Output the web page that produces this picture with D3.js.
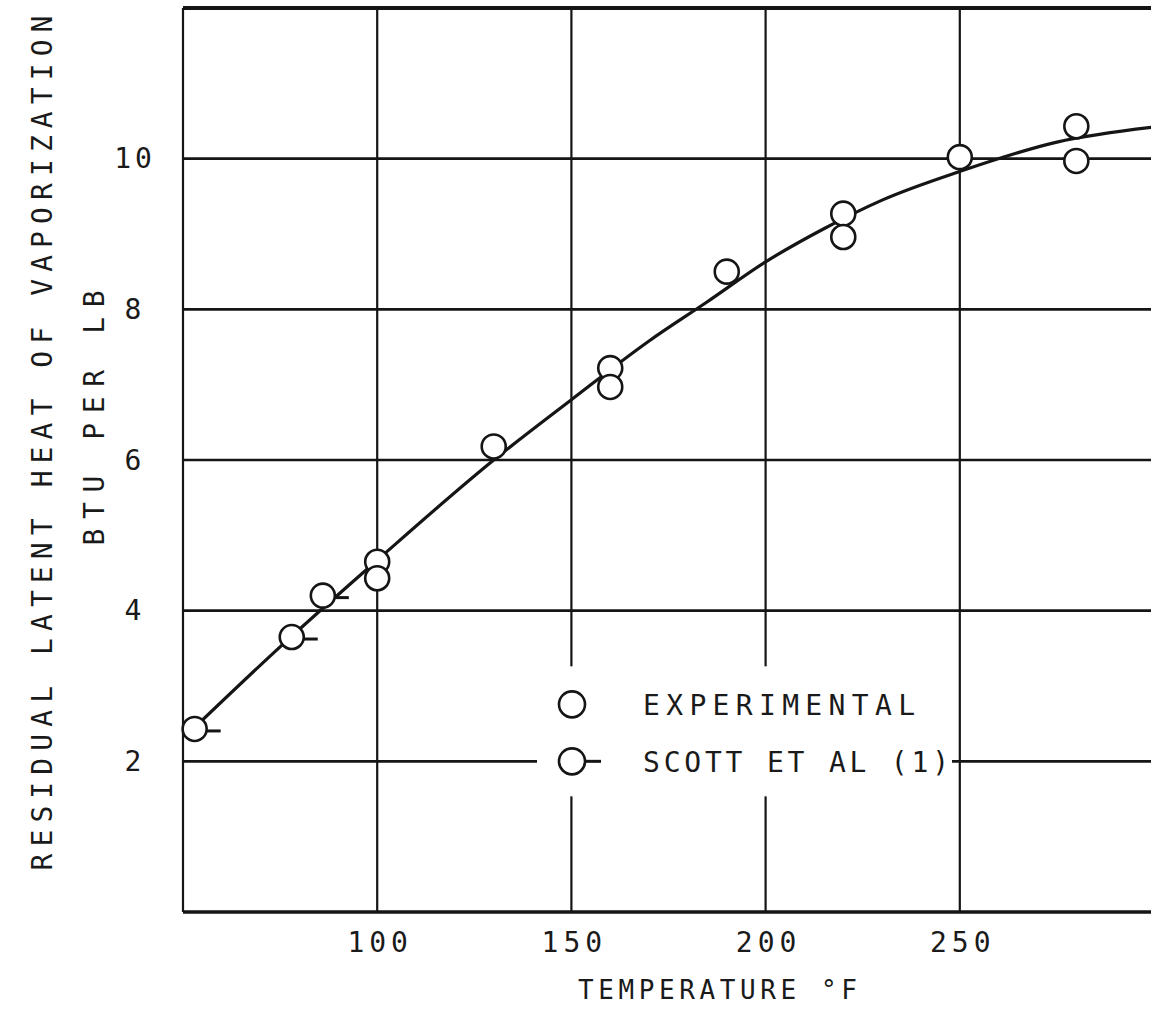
<!DOCTYPE html>
<html>
<head>
<meta charset="utf-8">
<script src="https://cdn.jsdelivr.net/npm/d3@7"></script>
<style>
  body { margin: 0; background: #fff; }
  svg text { font-family: "DejaVu Sans Mono", monospace; fill: #1a1a1a; }
</style>
</head>
<body>
<div id="chart"></div>
<script>
// readings (temperature in °F, heat in BTU/lb)
const tempExp = [100, 100, 130, 160, 160, 190, 220, 220, 250, 280, 280];
const heatExp = [4.65, 4.43, 6.18, 7.22, 6.97, 8.50, 9.27, 8.96, 10.02, 10.43, 9.97];
const tempScott = [53, 78, 86];
const heatScott = [2.43, 3.65, 4.20];
const curveTemp = [53, 75, 100, 130, 150, 170, 185, 200, 215, 230, 250, 275, 300];
const curveHeat = [2.45, 3.52, 4.67, 6.00, 6.80, 7.58, 8.10, 8.63, 9.07, 9.45, 9.83, 10.22, 10.42];
const xTicks = [100, 150, 200, 250];
const yTicks = [2, 4, 6, 8, 10];
const legendLabels = ["EXPERIMENTAL", "SCOTT ET AL (1)"];

const width = 1151, height = 1020;
const margin = { top: 8, right: -3, bottom: 108, left: 183 };

const svg = d3.select("#chart").append("svg")
    .attr("width", width).attr("height", height);
svg.append("rect").attr("width", width).attr("height", height).attr("fill", "#fff");

const x = d3.scaleLinear().domain([50, 300]).range([margin.left, width - margin.right]);
const y = d3.scaleLinear().domain([0, 12]).range([height - margin.bottom, margin.top]);

const ink = "#151515";

// grid
svg.append("g").selectAll("line").data(xTicks).join("line")
    .attr("x1", d => x(d)).attr("x2", d => x(d))
    .attr("y1", y(12)).attr("y2", y(0))
    .attr("stroke", ink).attr("stroke-width", 2.2);
svg.append("g").selectAll("line").data(yTicks).join("line")
    .attr("x1", x(50)).attr("x2", x(300))
    .attr("y1", d => y(d)).attr("y2", d => y(d))
    .attr("stroke", ink).attr("stroke-width", 2.6);

// frame
svg.append("line").attr("x1", x(50)).attr("x2", x(300)).attr("y1", y(12)).attr("y2", y(12))
    .attr("stroke", ink).attr("stroke-width", 4);
svg.append("line").attr("x1", x(50)).attr("x2", x(300)).attr("y1", y(0)).attr("y2", y(0))
    .attr("stroke", ink).attr("stroke-width", 3.5);
svg.append("line").attr("x1", x(50)).attr("x2", x(50)).attr("y1", y(12)).attr("y2", y(0))
    .attr("stroke", ink).attr("stroke-width", 2.2);

// tick labels
svg.append("g").selectAll("text").data(xTicks).join("text")
    .attr("x", d => x(d) + 3).attr("y", y(0) + 30)
    .attr("text-anchor", "middle").attr("dominant-baseline", "central")
    .attr("font-size", 28).attr("letter-spacing", 5)
    .text(d => d);
svg.append("g").selectAll("text").data(yTicks).join("text")
    .attr("x", 135).attr("y", d => y(d))
    .attr("text-anchor", "middle").attr("dominant-baseline", "central")
    .attr("font-size", 28).attr("letter-spacing", 4)
    .text(d => d);

// axis titles
svg.append("text")
    .attr("x", 578).attr("y", 990)
    .attr("dominant-baseline", "central")
    .attr("font-size", 26).attr("textLength", 279).attr("lengthAdjust", "spacing")
    .text("TEMPERATURE   °F");
svg.append("text")
    .attr("transform", "translate(42,443) rotate(-90)")
    .attr("text-anchor", "middle").attr("dominant-baseline", "central")
    .attr("font-size", 28).attr("textLength", 855).attr("lengthAdjust", "spacing")
    .text("RESIDUAL LATENT HEAT OF VAPORIZATION");
svg.append("text")
    .attr("transform", "translate(94,418) rotate(-90)")
    .attr("text-anchor", "middle").attr("dominant-baseline", "central")
    .attr("font-size", 28).attr("textLength", 255).attr("lengthAdjust", "spacing")
    .text("BTU PER LB");

// legend (blanks out the grid behind it)
const legX = 572, legY = [y(2) - 57, y(2)];
svg.append("rect").attr("x", 537).attr("y", y(2) - 95).attr("width", 415).attr("height", 130)
    .attr("fill", "#fff");
svg.append("circle").attr("cx", legX).attr("cy", legY[0]).attr("r", 13)
    .attr("fill", "#fff").attr("stroke", ink).attr("stroke-width", 2.6);
svg.append("circle").attr("cx", legX).attr("cy", legY[1]).attr("r", 13)
    .attr("fill", "#fff").attr("stroke", ink).attr("stroke-width", 2.6);
svg.append("line").attr("x1", legX + 13).attr("x2", legX + 29).attr("y1", legY[1]).attr("y2", legY[1])
    .attr("stroke", ink).attr("stroke-width", 3);
svg.append("g").selectAll("text").data(legendLabels).join("text")
    .attr("x", 643).attr("y", (d, i) => legY[i] + 1)
    .attr("dominant-baseline", "central")
    .attr("font-size", 28)
    .attr("textLength", (d, i) => [272, 306][i]).attr("lengthAdjust", "spacing")
    .text(d => d);

// smoothed curve
const curve = d3.line()
    .x(d => x(d[0])).y(d => y(d[1]))
    .curve(d3.curveMonotoneX);
svg.append("path")
    .datum(curveTemp.map((t, i) => [t, curveHeat[i]]))
    .attr("d", curve)
    .attr("fill", "none").attr("stroke", ink).attr("stroke-width", 3.2);

// data points
const r = 12;
svg.append("g").selectAll("circle").data(tempExp.map((t, i) => [t, heatExp[i]])).join("circle")
    .attr("cx", d => x(d[0])).attr("cy", d => y(d[1])).attr("r", r)
    .attr("fill", "#fff").attr("stroke", ink).attr("stroke-width", 2.6);

const scott = svg.append("g").selectAll("g").data(tempScott.map((t, i) => [t, heatScott[i]])).join("g")
    .attr("transform", d => `translate(${x(d[0])},${y(d[1])})`);
scott.append("circle").attr("r", r)
    .attr("fill", "#fff").attr("stroke", ink).attr("stroke-width", 2.6);
scott.append("line").attr("x1", r).attr("x2", r + 14).attr("y1", 2).attr("y2", 2)
    .attr("stroke", ink).attr("stroke-width", 3);
</script>
</body>
</html>
